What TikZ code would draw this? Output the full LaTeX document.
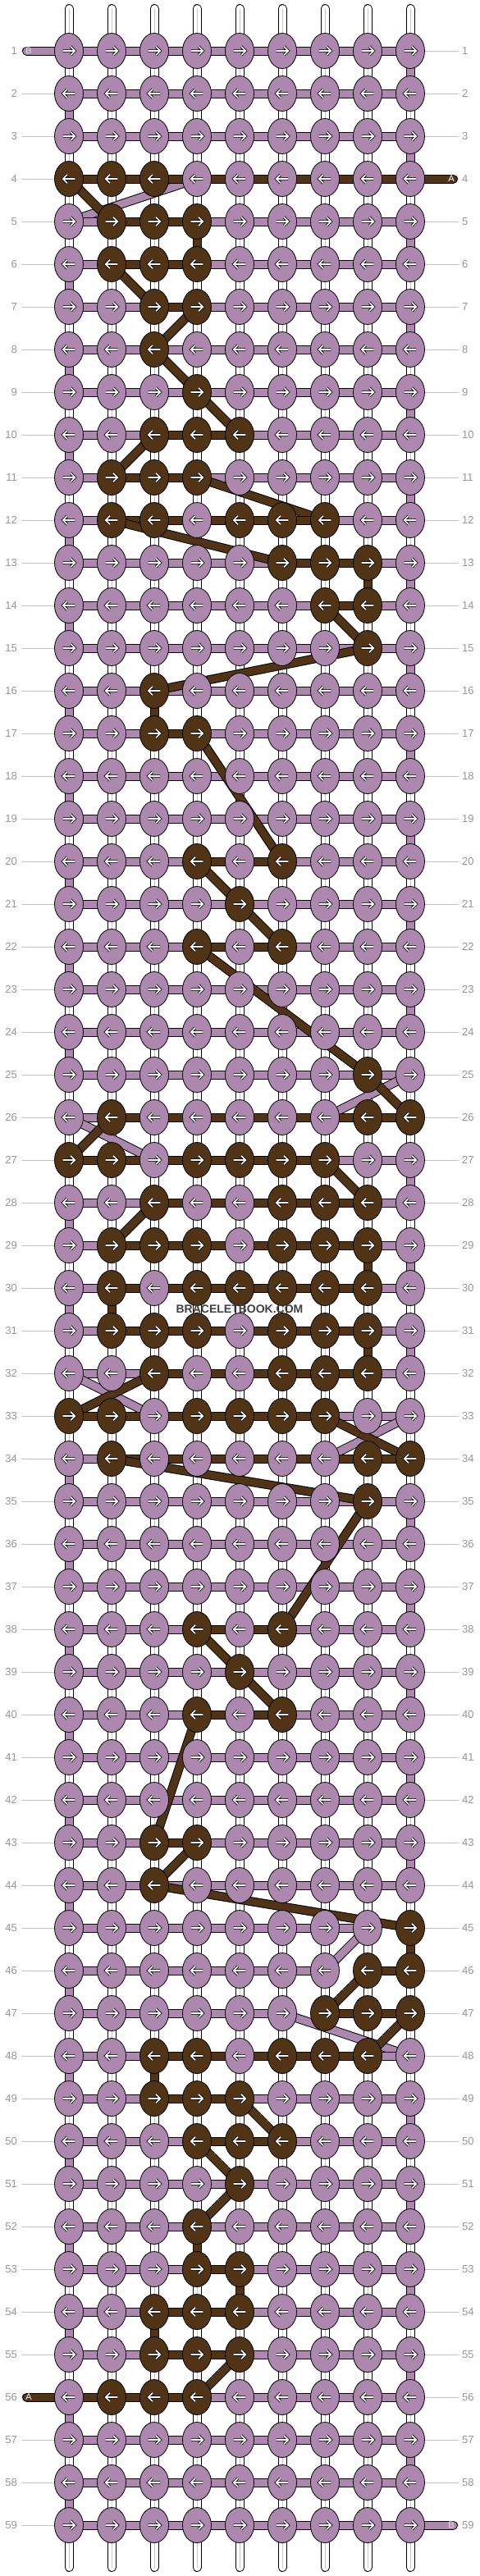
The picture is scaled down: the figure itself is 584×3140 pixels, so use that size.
\documentclass[tikz,border=0pt]{standalone}
\usepackage{fontspec}
\setmainfont{Liberation Sans}
\usetikzlibrary{shapes.geometric}
\definecolor{pur}{RGB}{173,136,174}
\definecolor{brn}{RGB}{80,52,21}
\definecolor{labgray}{RGB}{150,150,150}
\definecolor{linegray}{RGB}{195,195,195}
\pgfdeclarelayer{lab}
\pgfdeclarelayer{warp}
\pgfdeclarelayer{tp}
\pgfdeclarelayer{tb}
\pgfdeclarelayer{front}
\pgfsetlayers{lab,warp,tp,tb,main,front}
\tikzset{
  knot/.style={ellipse, draw=black, line width=0.8pt, fill=#1, minimum width=35pt, minimum height=43pt, inner sep=0pt},
  thr/.style={draw=black, double=#1, double distance=9pt, line width=1pt, line cap=round},
  warpstr/.style={draw=black, double=white, double distance=9pt, line width=1pt, line cap=round},
  warpmid/.style={draw=black!22, line width=0.8pt},
  labline/.style={draw=linegray, line width=1pt},
  lab/.style={text=labgray, font=\fontsize{13}{13}\selectfont, inner sep=0pt},
  arrowo/.style={draw=black, line width=3.4pt, line cap=square, miter limit=10},
  arrowi/.style={draw=white, line width=1.7pt, line cap=butt, miter limit=10},
  taillab/.style={text=white, font=\fontsize{11}{11}\selectfont, inner sep=0pt},
}
\def\brownlist{4/1,4/2,4/3,5/2,5/3,5/4,6/2,6/3,6/4,7/3,7/4,8/3,9/4,10/3,10/4,10/5,11/2,11/3,11/4,12/2,12/3,12/5,12/6,12/7,13/6,13/7,13/8,14/7,14/8,15/8,16/3,17/3,17/4,20/4,20/6,21/5,22/4,22/6,25/8,26/2,26/8,26/9,27/1,27/2,27/4,27/5,27/6,27/7,28/3,28/6,28/7,28/8,29/2,29/3,29/4,29/6,29/7,29/8,30/2,30/4,30/5,30/6,30/7,30/8,31/2,31/3,31/4,31/6,31/7,31/8,32/3,32/6,32/7,32/8,33/1,33/2,33/4,33/5,33/6,33/7,34/2,34/8,34/9,35/8,38/4,38/6,39/5,40/4,40/6,43/3,43/4,44/3,45/9,46/8,46/9,47/7,47/8,47/9,48/3,48/4,48/6,48/7,48/8,49/3,49/4,49/5,50/4,50/5,50/6,51/5,52/4,53/4,53/5,54/3,54/4,54/5,55/3,55/4,55/5,56/2,56/3,56/4}
\begin{document}
\begin{tikzpicture}[x=1pt,y=-1pt]
\useasboundingbox (0,0) rectangle (584,3140);
\foreach \a/\b in \brownlist {\expandafter\xdef\csname isB-\a-\b\endcsname{1}}
% knots
\foreach \rr in {1,...,59}{
  \foreach \cc in {1,...,9}{
    \ifcsname isB-\rr-\cc\endcsname\def\kc{brn}\else\def\kc{pur}\fi
    \node[knot=\kc] (k-\rr-\cc) at ({84+(\cc-1)*52},{62+(\rr-1)*52}) {};
  }
}
% tails
\coordinate (tP1) at (32.5,62);
\coordinate (tP2) at (552.5,3078);
\coordinate (tB1) at (552.5,218);
\coordinate (tB2) at (32.5,2922);
% row labels
\begin{pgfonlayer}{lab}
\foreach \rr in {1,...,59}{
  \node[lab, anchor=east] (ll-\rr) at (21,{62+(\rr-1)*52}) {\rr};
  \node[lab, anchor=west] (rl-\rr) at (563,{62+(\rr-1)*52}) {\rr};
  \draw[labline] ([xshift=5pt]ll-\rr.east) -- (k-\rr-1.west);
  \draw[labline] (k-\rr-9.east) -- ([xshift=-4pt]rl-\rr.west);
}
\end{pgfonlayer}
% warp strings
\begin{pgfonlayer}{warp}
\foreach \cc in {1,...,9}{
  \coordinate (st-\cc) at ({84+(\cc-1)*52},10.5);
  \coordinate (sb-\cc) at ({84+(\cc-1)*52},3129.5);
  \draw[warpstr] (st-\cc) -- (sb-\cc);
  \draw[warpmid] (st-\cc) -- (sb-\cc);
}
\end{pgfonlayer}
% purple thread
\begin{pgfonlayer}{tp}
\xdef\lastpt{tP1}
\foreach \rr in {1,...,59}{
  \foreach \ii in {1,...,9}{
    \ifodd\rr\xdef\cc{\ii}\else\pgfmathtruncatemacro\ctmp{10-\ii}\xdef\cc{\ctmp}\fi
    \ifcsname isB-\rr-\cc\endcsname\else
      \draw[thr=pur] (\lastpt.center) -- (k-\rr-\cc.center);
      \xdef\lastpt{k-\rr-\cc}
    \fi
  }
}
\draw[thr=pur] (\lastpt.center) -- (tP2);
\end{pgfonlayer}
% brown thread
\begin{pgfonlayer}{tb}
\xdef\lastpt{tB1}
\foreach \rr in {1,...,59}{
  \foreach \ii in {1,...,9}{
    \ifodd\rr\xdef\cc{\ii}\else\pgfmathtruncatemacro\ctmp{10-\ii}\xdef\cc{\ctmp}\fi
    \ifcsname isB-\rr-\cc\endcsname
      \draw[thr=brn] (\lastpt.center) -- (k-\rr-\cc.center);
      \xdef\lastpt{k-\rr-\cc}
    \fi
  }
}
\draw[thr=brn] (\lastpt.center) -- (tB2);
\end{pgfonlayer}
% arrows and texts
\begin{pgfonlayer}{front}
\foreach \rr in {1,...,59}{
  \ifodd\rr\def\dd{1}\else\def\dd{-1}\fi
  \foreach \cc in {1,...,9}{
    \begin{scope}[shift={(k-\rr-\cc.center)},xscale=\dd]
      \draw[arrowo] (-7.3,0)--(7.3,0) (2,-5.2)--(7.3,0)--(2,5.2);
      \draw[arrowi] (-7.3,0)--(7.3,0) (2,-5.2)--(7.3,0)--(2,5.2);
    \end{scope}
  }
}
\node[taillab, text=pur!25] (lB1) at (35,62) {B};
\node[taillab] (lA1) at (550,218) {A};
\node[taillab] (lA2) at (35,2922) {A};
\node[taillab, text=pur!25] (lB2) at (550,3078) {B};
\node[font=\bfseries\fontsize{14}{14}\selectfont, text=black!75, inner sep=0pt] (wm) at (292,1596) {BRACELETBOOK.COM};
\end{pgfonlayer}
\end{tikzpicture}
\end{document}
